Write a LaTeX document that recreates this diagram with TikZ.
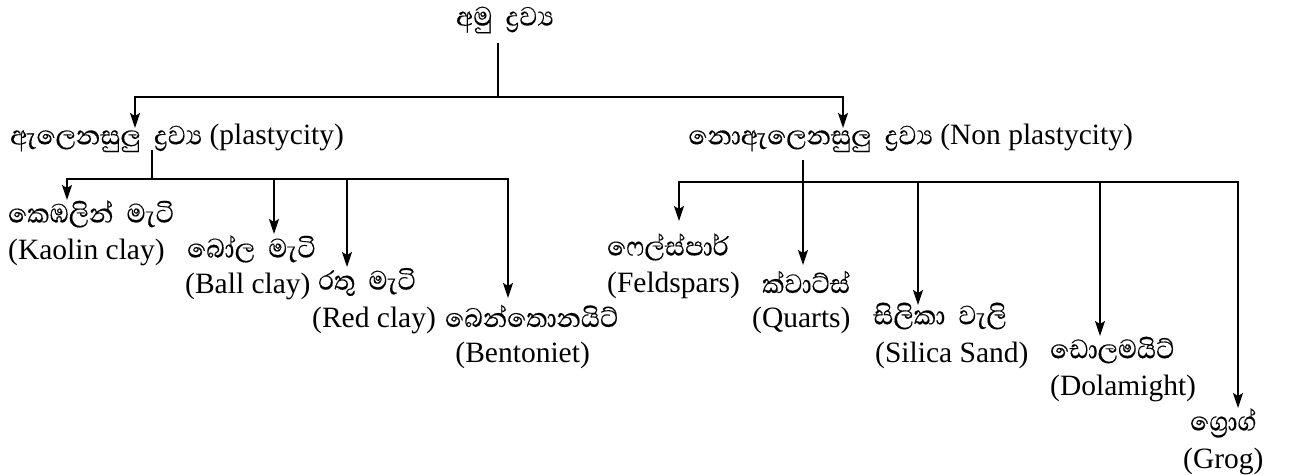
\documentclass[tikz,border=0pt]{standalone}
\usepackage{fontspec}
\setmainfont{Liberation Serif}
\newfontfamily\si[Script=Sinhala,FakeStretch=0.93,FakeBold=0.3,WordSpace=2.2]{Abhaya Libre}
\usetikzlibrary{arrows.meta}
\newcommand{\sifont}{\fontsize{34}{38}\selectfont\si}
\tikzset{
  lbl/.style={inner sep=0pt, anchor=west, font=\fontsize{29.5}{34}\selectfont},
  sil/.style={inner sep=0pt, anchor=west, font=\sifont},
  conn/.style={line width=1.7pt},
  arr/.style={line width=1.7pt, -{Stealth[length=15pt,width=10pt,inset=3pt]}}
}
\begin{document}
\begin{tikzpicture}[x=1pt,y=-1pt]
\useasboundingbox (0,0) rectangle (1296,474);
% texts
\node[sil,anchor=center] (root) at (505,20) {අමු ද්^^^^200dරව්^^^^200dය};
\node[lbl] (plas) at (10,138) {{\sifont ඇලෙනසුලු ද්^^^^200dරව්^^^^200dය} (plastycity)};
\node[lbl,anchor=east] (nonp) at (1133,138) {{\sifont නොඇලෙනසුලු ද්^^^^200dරව්^^^^200dය} (Non plastycity)};
\node[sil] (kaoS) at (8,214) {කෙඹලින් මැටි};
\node[lbl] (kaoE) at (8,252) {(Kaolin clay)};
\node[sil] (balS) at (187,249) {බෝල මැටි};
\node[lbl] (balE) at (185,286) {(Ball clay)};
\node[sil] (redS) at (318,282) {රතු මැටි};
\node[lbl] (redE) at (312,320) {(Red clay)};
\node[sil] (benS) at (445,316) {බෙන්තොනයිට්};
\node[lbl,anchor=east] (benE) at (590,355) {(Bentoniet)};
\node[sil] (felS) at (607,247) {ෆෙල්ස්පාර්};
\node[lbl] (felE) at (607,285) {(Feldspars)};
\node[sil] (quaS) at (762,282) {ක්වාට්ස්};
\node[lbl] (quaE) at (752,320) {(Quarts)};
\node[sil] (silS) at (873,316) {සිලිකා වැලි};
\node[lbl] (silE) at (875,355) {(Silica Sand)};
\node[sil] (dolS) at (1050,350) {ඩොලමයිට්};
\node[lbl] (dolE) at (1050,388) {(Dolamight)};
\node[sil] (groS) at (1190,423) {ග්^^^^200dරොග්};
\node[lbl] (groE) at (1183,461) {(Grog)};
% connector points
\coordinate (r0) at (498,43);
\coordinate (j0) at (498,97);
\coordinate (tl) at (135,128);
\coordinate (tr) at (843,128);
\coordinate (p0) at (152,150);
\coordinate (p1) at (152,179);
\coordinate (tk) at (67,200);
\coordinate (tb) at (274,234);
\coordinate (trd) at (347,267);
\coordinate (tbe) at (508,298);
\coordinate (n0) at (803,160);
\coordinate (n1) at (803,182);
\coordinate (tq) at (803,265);
\coordinate (tf) at (679,221);
\coordinate (ts) at (918,305);
\coordinate (td) at (1100,336);
\coordinate (tg) at (1238,408);
% connectors
\draw[conn] (r0) -- (j0);
\draw[arr] (j0) -| (tl);
\draw[arr] (j0) -| (tr);
\draw[conn] (p0) -- (p1);
\draw[arr] (p1) -| (tk);
\draw[arr] (p1) -| (tb);
\draw[arr] (p1) -| (trd);
\draw[arr] (p1) -| (tbe);
\draw[arr] (n0) -- (tq);
\draw[arr] (n1) -| (tf);
\draw[arr] (n1) -| (ts);
\draw[arr] (n1) -| (td);
\draw[arr] (n1) -| (tg);
\end{tikzpicture}
\end{document}
